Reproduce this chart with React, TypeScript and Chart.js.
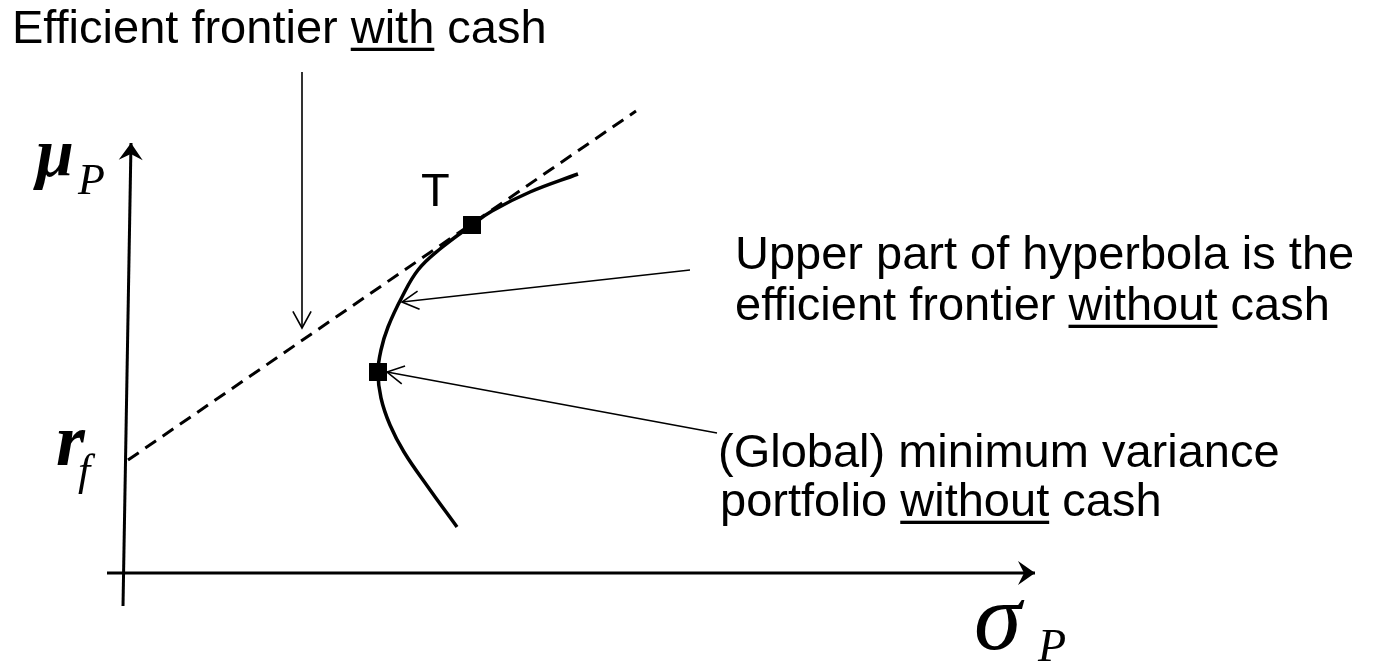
import React, { useEffect, useRef } from "react";
import { Chart, registerables } from "chart.js";

Chart.register(...registerables);

// ---- data (sigma = risk, mu = expected return), arbitrary units ----
const frontierSigma = [4.5, 4.02, 3.64, 3.44, 3.12, 2.9, 2.74, 2.6, 2.53, 2.5, 2.53, 2.62, 2.76, 3.0, 3.29];
const frontierMu = [3.99, 3.81, 3.62, 3.48, 3.24, 3.03, 2.76, 2.46, 2.23, 2.01, 1.75, 1.48, 1.21, 0.86, 0.46];

const cmlSigma = [0, 5.08];
const cmlMu = [1.13, 4.62];

const tangencyPoint = [3.44, 3.48];
const minVarPoint = [2.5, 2.01];

const sigmaAxisSigma = [-0.21, 9.07];
const sigmaAxisMu = [0, 0];
const muAxisSigma = [-0.05, 0.03];
const muAxisMu = [-0.33, 4.3];

// callout arrows: [fromSigma, fromMu, toSigma, toMu]
const calloutArrows = [
  [1.74, 5.01, 1.74, 2.45],
  [5.62, 3.03, 2.74, 2.71],
  [5.89, 1.4, 2.59, 2.01],
];

const SANS = '"Liberation Sans", Arial, sans-serif';
const SERIF = '"Liberation Serif", "Times New Roman", serif';

type Seg = { t: string; u?: boolean };
type Label = { x: number; y: number; font: string; segs: Seg[] };

const labels: Label[] = [
  { x: -1.16, y: 5.3, font: `47px ${SANS}`, segs: [{ t: "Efficient frontier " }, { t: "with", u: true }, { t: " cash" }] },
  { x: 2.93, y: 3.67, font: `47px ${SANS}`, segs: [{ t: "T" }] },
  { x: 6.07, y: 3.04, font: `47px ${SANS}`, segs: [{ t: "Upper part of hyperbola is the" }] },
  { x: 6.07, y: 2.53, font: `47px ${SANS}`, segs: [{ t: "efficient frontier " }, { t: "without", u: true }, { t: " cash" }] },
  { x: 5.9, y: 1.06, font: `47px ${SANS}`, segs: [{ t: "(Global) minimum variance" }] },
  { x: 5.92, y: 0.57, font: `47px ${SANS}`, segs: [{ t: "portfolio " }, { t: "without", u: true }, { t: " cash" }] },
  { x: -0.92, y: 3.97, font: `bold italic 68px ${SERIF}`, segs: [{ t: "μ" }] },
  { x: -0.5, y: 3.79, font: `italic 44px ${SERIF}`, segs: [{ t: "P" }] },
  { x: -0.72, y: 1.08, font: `bold italic 74px ${SERIF}`, segs: [{ t: "r" }] },
  { x: -0.5, y: 0.88, font: `italic 44px ${SERIF}`, segs: [{ t: "f" }] },
  { x: 8.46, y: -0.76, font: `italic 96px ${SERIF}`, segs: [{ t: "σ" }] },
  { x: 9.1, y: -0.88, font: `italic 46px ${SERIF}`, segs: [{ t: "P" }] },
];

const pts = (xs: number[], ys: number[]) => xs.map((x, i) => ({ x, y: ys[i] }));

const decorPlugin = {
  id: "decor",
  afterDatasetsDraw(chart: any) {
    const ctx: CanvasRenderingContext2D = chart.ctx;
    const xs = chart.scales.x;
    const ys = chart.scales.y;
    const px = (v: number) => xs.getPixelForValue(v);
    const py = (v: number) => ys.getPixelForValue(v);
    ctx.save();

    // filled axis arrowheads
    const solidHead = (fx: number, fy: number, tx: number, ty: number) => {
      const a = Math.atan2(ty - fy, tx - fx);
      const L = 17, W = 12, N = 6;
      ctx.save();
      ctx.translate(tx, ty);
      ctx.rotate(a);
      ctx.beginPath();
      ctx.moveTo(0, 0);
      ctx.lineTo(-L, -W);
      ctx.lineTo(-L + N, 0);
      ctx.lineTo(-L, W);
      ctx.closePath();
      ctx.fillStyle = "#000";
      ctx.fill();
      ctx.restore();
    };
    solidHead(px(sigmaAxisSigma[0]), py(sigmaAxisMu[0]), px(sigmaAxisSigma[1]), py(sigmaAxisMu[1]));
    solidHead(px(muAxisSigma[0]), py(muAxisMu[0]), px(muAxisSigma[1]), py(muAxisMu[1]));

    // open callout heads
    calloutArrows.forEach(([fs, fm, ts, tm]) => {
      const fx = px(fs), fy = py(fm), tx = px(ts), ty = py(tm);
      const a = Math.atan2(ty - fy, tx - fx);
      const L = 19, ang = 0.5;
      ctx.beginPath();
      ctx.moveTo(tx - L * Math.cos(a - ang), ty - L * Math.sin(a - ang));
      ctx.lineTo(tx, ty);
      ctx.lineTo(tx - L * Math.cos(a + ang), ty - L * Math.sin(a + ang));
      ctx.lineWidth = 1.6;
      ctx.strokeStyle = "#000";
      ctx.stroke();
    });

    // text labels
    ctx.fillStyle = "#000";
    ctx.textBaseline = "alphabetic";
    ctx.textAlign = "left";
    labels.forEach((lb) => {
      ctx.font = lb.font;
      let x = px(lb.x);
      const y = py(lb.y);
      const size = parseFloat(lb.font.match(/(\d+)px/)![1]);
      lb.segs.forEach((s) => {
        const w = ctx.measureText(s.t).width;
        ctx.fillText(s.t, x, y);
        if (s.u) {
          ctx.fillRect(x, y + size * 0.1, w, Math.max(2, size * 0.07));
        }
        x += w;
      });
    });
    ctx.restore();
  },
};

export default function App() {
  const ref = useRef<HTMLCanvasElement>(null);
  useEffect(() => {
    const canvas = ref.current!;
    const line = (data: any[], extra: any) => ({
      type: "line",
      data,
      showLine: true,
      fill: false,
      pointRadius: 0,
      borderColor: "#000",
      backgroundColor: "#000",
      tension: 0,
      clip: false,
      ...extra,
    });
    const chart = new Chart(canvas, {
      type: "scatter",
      data: {
        datasets: [
          line(pts([tangencyPoint[0], minVarPoint[0]], [tangencyPoint[1], minVarPoint[1]]), {
            showLine: false,
            pointRadius: 12.7,
            pointStyle: "rect",
            borderWidth: 0,
            order: 0,
          }),
          line(pts(frontierSigma, frontierMu), { borderWidth: 3.5, tension: 0.4, order: 1 }),
          line(pts(cmlSigma, cmlMu), { borderWidth: 3, borderDash: [13, 8], order: 2 }),
          line(pts(sigmaAxisSigma, sigmaAxisMu), { borderWidth: 3, order: 3 }),
          line(pts(muAxisSigma, muAxisMu), { borderWidth: 3, order: 3 }),
          ...calloutArrows.map(([fs, fm, ts, tm]) =>
            line([{ x: fs, y: fm }, { x: ts, y: tm }], { borderWidth: 1.6, order: 4 })
          ),
        ] as any,
      },
      options: {
        responsive: false,
        animation: false,
        devicePixelRatio: 1,
        layout: { padding: 0, autoPadding: false },
        events: [],
        plugins: { legend: { display: false }, tooltip: { enabled: false } },
        scales: {
          x: { type: "linear", min: -1.28, max: 12.57, display: false },
          y: { type: "linear", min: -0.92, max: 5.73, display: false },
        },
      },
      plugins: [decorPlugin],
    } as any);
    return () => chart.destroy();
  }, []);
  return (
    <div style={{ position: "absolute", left: 0, top: 0, width: 1385, height: 665, background: "#fff" }}>
      <canvas ref={ref} width={1385} height={665} />
    </div>
  );
}
